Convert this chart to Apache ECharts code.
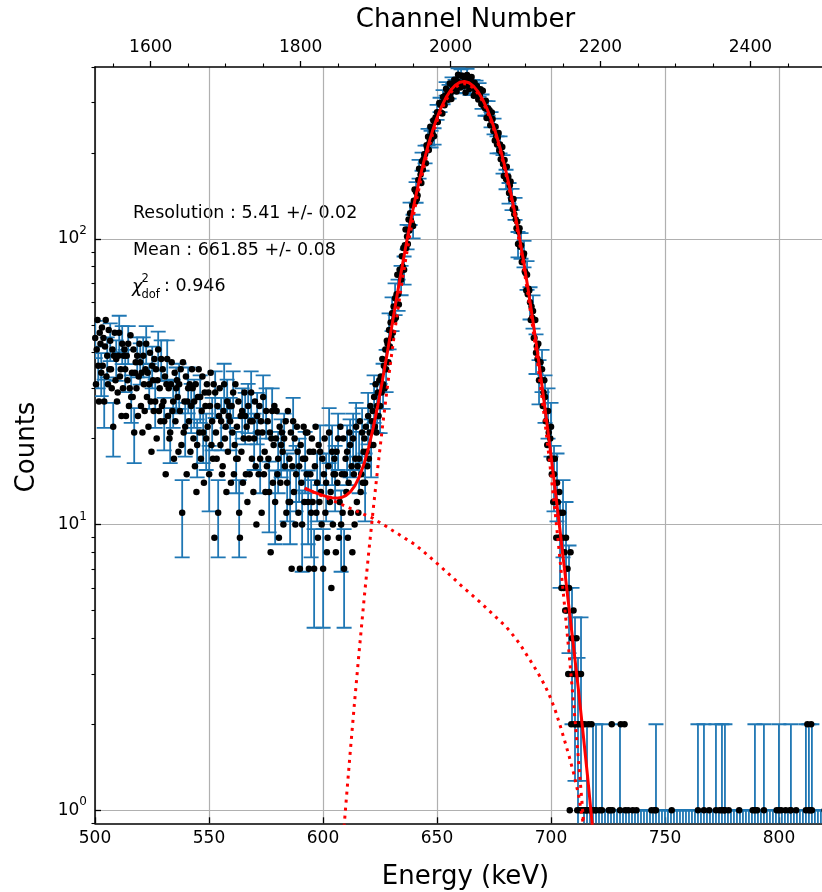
<!DOCTYPE html>
<html>
<head>
<meta charset="utf-8">
<script src="https://cdn.jsdelivr.net/npm/echarts@6/dist/echarts.min.js"></script>
<style>
  html, body { margin: 0; padding: 0; background: #ffffff; }
  #chart { width: 822px; height: 892px; }
</style>
</head>
<body>
<div id="chart"></div>
<script>
// Energy calibration: E [keV] = CAL_GAIN * channel + CAL_OFFSET
const CAL_GAIN = 0.3288;
const CAL_OFFSET = -1.65;
const FIRST_CHANNEL = 1526;
const ERROR_EVERY = 4;

const E_MIN = 500, E_MAX = 825;
const Y_MIN = 0.9, Y_MAX = 400;

// Counts per channel, starting at FIRST_CHANNEL
const countsContinuum = [
  45, 31, 41, 52, 36, 27, 47, 43, 34, 49,
  36, 45, 27, 42, 52, 33, 39, 31, 48, 35,
  44, 35, 30, 41, 22, 39, 47, 32, 38, 27,
  29, 39, 47, 33, 35, 24, 43, 30, 39, 41,
  35, 24, 39, 32, 43, 26, 30, 46, 28, 34,
  28, 41, 21, 34, 37, 30, 39, 24, 33, 43,
  37, 26, 34, 21, 39, 31, 25, 35, 43, 28,
  34, 22, 31, 40, 27, 18, 36, 32, 25, 38,
  27, 35, 20, 32, 41, 25, 30, 23, 38, 26,
  35, 27, 23, 33, 15, 31, 38, 24, 30, 20,
  21, 31, 37, 25, 27, 17, 34, 23, 30, 32,
  28, 18, 31, 25, 35, 19, 11, 37, 21, 27,
  22, 33, 15, 27, 30, 23, 31, 18, 26, 35,
  30, 20, 27, 16, 31, 13, 19, 28, 35, 21,
  28, 17, 25, 33, 21, 14, 29, 26, 20, 31,
  22, 29, 15, 26, 34, 19, 23, 17, 31, 9,
  29, 21, 17, 26, 11, 24, 30, 19, 23, 15,
  16, 25, 31, 20, 22, 13, 27, 18, 24, 26,
  23, 14, 26, 21, 29, 15, 19, 31, 17, 22,
  17, 27, 11, 9, 24, 18, 25, 14, 20, 29,
  24, 15, 22, 12, 26, 20, 15, 23, 29, 17,
  23, 13, 20, 27, 16, 10, 24, 21, 15, 26,
  17, 23, 11, 21, 28, 15, 18, 13, 25, 16,
  23, 17, 13, 21, 8, 20, 25, 14, 19, 26,
  12, 20, 25, 15, 17, 9, 22, 14, 19, 21,
  18, 10, 20, 16, 23, 11, 14, 25, 12, 17,
  12, 21, 7, 16, 23, 13, 20, 10, 15, 22,
  18, 11, 16, 7, 19, 14, 10, 17, 22, 12
];
const countsRise = [
  17, 21, 15, 21, 12, 7, 18, 15, 11, 20,
  12, 18, 7, 16, 22, 11, 14, 9, 19, 12,
  18, 13, 10, 17, 7, 15, 20, 11, 14, 8,
  9, 16, 21, 12, 13, 6, 18, 10, 15, 17,
  15, 8, 18, 14, 20, 9, 12, 22, 10, 15,
  11, 20, 7, 15, 17, 13, 18, 9, 14, 21,
  19, 11, 16, 8, 20, 15, 10, 17, 22, 12,
  16, 11, 17, 23, 13, 15, 21, 14, 18, 20,
  14, 22, 18, 16, 24, 17, 21, 26, 19, 23,
  25, 19, 28, 22, 31, 21, 26, 29, 24, 32,
  26, 33, 29, 38, 31, 36, 30, 41, 35, 44,
  43, 37, 48, 42, 51, 45, 55, 47, 58, 52
];
const countsPeak = [
  62, 53, 64, 75, 64, 59, 78, 76, 72, 87,
  80, 93, 78, 95, 108, 93, 102, 96, 117, 107,
  123, 116, 114, 131, 111, 136, 149, 135, 146, 138,
  142, 161, 176, 160, 168, 157, 187, 175, 190, 198,
  198, 184, 213, 207, 228, 205, 218, 247, 224, 238,
  233, 260, 229, 257, 266, 258, 278, 257, 277, 299,
  295, 277, 296, 275, 314, 302, 294, 318, 336, 311,
  329, 307, 328, 350, 324, 309, 349, 343, 330, 361,
  342, 360, 328, 355, 376, 341, 353, 339, 373, 349,
  373, 353, 343, 365, 326, 360, 375, 345, 356, 335,
  337, 356, 369, 339, 342, 317, 352, 326, 340, 343,
  333, 308, 333, 318, 334, 297, 303, 330, 292, 300,
  287, 305, 265, 285, 287, 270, 282, 250, 262, 277,
  263, 239, 248, 221, 247, 229, 214, 227, 235, 204,
  214, 190, 199, 210, 183, 166, 189, 178, 162, 179
];
const countsFall = [
  161, 165, 145, 154, 159, 138, 138, 127, 138, 122,
  128, 117, 109, 115, 96, 106, 109, 94, 95, 83,
  83, 87, 89, 77, 76, 66, 75, 64, 67, 66,
  60, 52, 58, 53, 56, 45, 45, 52, 40, 42,
  38, 43, 32, 37, 37, 32, 35, 26, 29, 32,
  28, 23, 25, 19, 25, 21, 17, 20, 22, 15,
  17, 12, 15, 17, 12, 9, 14, 12, 9, 13,
  9, 11, 6, 9, 11, 6, 8, 5, 9, 5,
  7, 3, 6, 1, 8, 2, 4, 3, 5, 2,
  3, 2, 4, 1, 2, 3, 1, 2, 3, 1,
  2, 1, 0, 2, 1, 1, 1, 0, 2, 1,
  0, 1, 2, 0, 1, 0, 0, 1, 1, 0,
  0, 0, 0, 1, 0, 0, 1, 0, 0, 0,
  0, 0, 0, 0, 0, 1, 0, 1, 0, 2,
  1, 0, 0, 0, 0, 0, 0, 0, 0, 0
];
const countsTail = [
  1, 2, 0, 0, 0, 0, 2, 1, 0, 0,
  0, 1, 0, 0, 0, 0, 0, 1, 0, 0,
  0, 0, 1, 0, 0, 0, 0, 0, 0, 0,
  0, 0, 0, 0, 0, 0, 0, 0, 0, 0,
  0, 0, 1, 0, 0, 0, 1, 0, 1, 0,
  0, 0, 0, 0, 0, 0, 0, 0, 0, 0,
  0, 0, 0, 0, 0, 0, 0, 0, 0, 1,
  0, 0, 0, 0, 0, 0, 0, 0, 0, 0,
  0, 0, 0, 0, 0, 0, 0, 0, 0, 0,
  0, 0, 0, 0, 0, 0, 0, 0, 0, 0,
  0, 0, 0, 0, 1, 0, 0, 0, 0, 0,
  0, 0, 1, 0, 0, 0, 0, 0, 0, 1,
  0, 0, 0, 0, 0, 0, 0, 0, 1, 0,
  0, 0, 0, 1, 0, 0, 1, 0, 0, 1,
  1, 0, 0, 0, 0, 1, 0, 0, 0, 0,
  0, 0, 0, 0, 0, 0, 0, 0, 0, 1,
  0, 0, 0, 0, 0, 0, 0, 0, 0, 0,
  0, 0, 0, 0, 0, 0, 0, 1, 0, 0,
  1, 0, 0, 1, 0, 0, 0, 0, 0, 0,
  0, 0, 1, 0, 0, 0, 0, 0, 0, 0,
  0, 0, 0, 0, 0, 0, 0, 0, 0, 1,
  0, 0, 1, 0, 0, 1, 0, 0, 0, 0,
  0, 1, 0, 0, 0, 0, 0, 1, 1, 0,
  0, 0, 0, 0, 0, 1, 0, 0, 0, 0,
  0, 0, 0, 0, 0, 0, 0, 0, 1, 0,
  2, 0, 1, 0, 1, 2, 1, 0, 0, 0,
  0, 0, 0, 0, 0, 0, 0, 0, 0, 0,
  0, 0, 0, 1, 0, 0, 0, 0, 0, 0,
  0, 0, 0, 0, 0, 0, 0, 0, 0
];

// Fit result sampled along energy (keV)
const fitEnergy = [
  592, 594, 596, 598, 600, 602, 604, 606, 608, 610,
  612, 614, 616, 618, 620, 622, 624, 626, 628, 630,
  632, 634, 636, 638, 640, 642, 644, 646, 648, 650,
  652, 654, 656, 658, 660, 662, 664, 666, 668, 670,
  672, 674, 676, 678, 680, 682, 684, 686, 688, 690,
  692, 694, 696, 698, 700, 702, 704, 706, 708, 710,
  712, 714, 716, 718, 720
];
const fitTotal = [
  13.41, 13.20, 13.00, 12.81, 12.65, 12.51, 12.41, 12.38, 12.44, 12.63,
  13.02, 13.69, 14.74, 16.32, 18.60, 21.78, 26.05, 31.75, 39.12, 48.49,
  60.28, 74.46, 91.35, 110.95, 133.15, 157.5, 183.65, 211.0, 238.65, 265.6,
  290.8, 313.15, 331.6, 345.3, 353.6, 356.0, 352.3, 342.8, 327.9, 308.35,
  285.1, 259.2, 231.6, 203.6, 176.0, 149.6, 125.0, 102.85, 83.34, 66.43,
  52.14, 40.45, 30.86, 23.36, 17.45, 12.92, 9.46, 6.90, 5.03, 3.66,
  2.66, 1.885, 1.323, 0.906, 0.612
];
const fitGauss = [
  0.0091, 0.0165, 0.0294, 0.0515, 0.0888, 0.150, 0.250, 0.410, 0.659, 1.04,
  1.62, 2.47, 3.70, 5.46, 7.91, 11.26, 15.77, 21.7, 29.3, 38.9,
  50.9, 65.3, 82.4, 102.2, 124.6, 149.2, 175.6, 203.2, 231.1, 258.3,
  283.7, 306.3, 325.0, 338.9, 347.4, 350.0, 346.5, 337.2, 322.5, 303.1,
  280.0, 254.3, 226.9, 199.0, 171.6, 145.4, 121.0, 99.0, 79.7, 63.0,
  48.9, 37.4, 28.0, 20.7, 15.0, 10.7, 7.48, 5.15, 3.49, 2.32,
  1.52, 0.973, 0.615, 0.381, 0.232
];
const fitBackground = [
  13.40, 13.18, 12.97, 12.76, 12.56, 12.36, 12.16, 11.97, 11.78, 11.59,
  11.40, 11.22, 11.04, 10.86, 10.69, 10.52, 10.28, 10.05, 9.82, 9.59,
  9.38, 9.16, 8.95, 8.75, 8.55, 8.30, 8.05, 7.80, 7.55, 7.31,
  7.08, 6.85, 6.62, 6.40, 6.18, 5.98, 5.79, 5.61, 5.43, 5.25,
  5.07, 4.90, 4.73, 4.57, 4.42, 4.23, 4.04, 3.85, 3.64, 3.43,
  3.24, 3.05, 2.86, 2.66, 2.45, 2.22, 1.98, 1.75, 1.54, 1.34,
  1.14, 0.912, 0.708, 0.525, 0.380
];

// Axis ticks
const channelMajorTicks = [1600, 1800, 2000, 2200, 2400];
const channelMinorTicks = [1550, 1650, 1700, 1750, 1850, 1900, 1950, 2050, 2100, 2150, 2250, 2300, 2350, 2450, 2500];
const countDecades = [1, 10, 100];
const countMinorTicks = [0.9, 2, 3, 4, 5, 6, 7, 8, 9, 20, 30, 40, 50, 60, 70, 80, 90, 200, 300, 400];

const FONT = 'DejaVu Sans';
const toEnergy = ch => CAL_GAIN * ch + CAL_OFFSET;
const toChannel = e => (e - CAL_OFFSET) / CAL_GAIN;

const counts = [].concat(countsContinuum, countsRise, countsPeak, countsFall, countsTail);
const points = [];
const bars = [];
counts.forEach((n, i) => {
  const e = toEnergy(FIRST_CHANNEL + i);
  if (n > 0) points.push([e, n]);
  if (i % ERROR_EVERY === 0) {
    const err = n > 0 ? Math.sqrt(n) : 1;
    bars.push([e, n - err, n + err]);
  }
});
const pair = (xs, ys) => xs.map((x, k) => [x, ys[k]]);

function renderErrorBar(params, api) {
  const cs = params.coordSys;
  const e = api.value(0), lo = api.value(1), hi = api.value(2);
  const p = api.coord([e, hi]);
  const x = p[0], yHi = p[1];
  const yLo = lo > 0 ? api.coord([e, lo])[1] : cs.y + cs.height + 10;
  const half = 7.5;
  const style = { stroke: '#1f77b4', lineWidth: 1.8, fill: null };
  const children = [
    { type: 'line', shape: { x1: x, y1: yLo, x2: x, y2: yHi }, style },
    { type: 'line', shape: { x1: x - half, y1: yHi, x2: x + half, y2: yHi }, style }
  ];
  if (lo > 0) {
    children.push({ type: 'line', shape: { x1: x - half, y1: yLo, x2: x + half, y2: yLo }, style });
  }
  return { type: 'group', children };
}

const axisLineStyle = { color: '#000000', width: 1.5 };
const gridLineStyle = { color: '#b0b0b0', width: 1.2 };

const chart = echarts.init(document.getElementById('chart'), null, { renderer: 'canvas' });
chart.setOption({
  animation: false,
  backgroundColor: '#ffffff',
  textStyle: { fontFamily: FONT, color: '#000000' },
  grid: { left: 95, top: 67, width: 741, height: 756.3, outerBoundsMode: 'none', containLabel: false },
  xAxis: [
    {
      type: 'value', position: 'bottom', min: E_MIN, max: E_MAX, interval: 50,
      axisLine: { show: true, onZero: false, lineStyle: axisLineStyle },
      axisTick: { show: true, inside: true, length: 6, lineStyle: { color: '#000', width: 1.3 } },
      axisLabel: { color: '#000', fontSize: 17, fontFamily: FONT, margin: 7, showMaxLabel: false },
      splitLine: { show: true, lineStyle: gridLineStyle }
    },
    {
      type: 'value', position: 'top', min: toChannel(E_MIN), max: toChannel(E_MAX),
      axisLine: { show: true, onZero: false, lineStyle: axisLineStyle },
      axisTick: { show: true, inside: false, length: 6, customValues: channelMajorTicks, lineStyle: { color: '#000', width: 1.3 } },
      axisLabel: {
        show: true, customValues: channelMajorTicks, color: '#000', fontSize: 17, fontFamily: FONT, margin: 11,
        formatter: v => String(Math.round(v))
      },
      splitLine: { show: false }
    },
    {
      type: 'value', position: 'top', min: toChannel(E_MIN), max: toChannel(E_MAX),
      axisLine: { show: false },
      axisTick: { show: true, inside: false, length: 3.5, customValues: channelMinorTicks, lineStyle: { color: '#000', width: 1.1 } },
      axisLabel: { show: false },
      splitLine: { show: false }
    }
  ],
  yAxis: [
    {
      type: 'log', logBase: 10, min: Y_MIN, max: Y_MAX, position: 'left',
      axisLine: { show: true, onZero: false, lineStyle: axisLineStyle },
      axisTick: { show: true, inside: true, length: 6, customValues: countDecades, lineStyle: { color: '#000', width: 1.3 } },
      axisLabel: {
        show: true, customValues: countDecades, margin: 8,
        formatter: v => '{b|10}{s|' + Math.round(Math.log10(v)) + '}',
        rich: {
          b: { fontSize: 17, fontFamily: FONT, color: '#000', lineHeight: 28, verticalAlign: 'middle' },
          s: { fontSize: 12, fontFamily: FONT, color: '#000', lineHeight: 14, verticalAlign: 'top' }
        }
      },
      splitLine: { show: true, lineStyle: gridLineStyle }
    },
    {
      type: 'log', logBase: 10, min: Y_MIN, max: Y_MAX, position: 'left',
      axisLine: { show: false },
      axisTick: { show: true, inside: false, length: 3.5, customValues: countMinorTicks, lineStyle: { color: '#000', width: 1.1 } },
      axisLabel: { show: false },
      splitLine: { show: false }
    }
  ],
  series: [
    {
      type: 'custom', name: 'errors', xAxisIndex: 0, yAxisIndex: 0,
      dimensions: ['energy', 'low', 'high'],
      encode: { x: 'energy', y: 'high' },
      data: bars, renderItem: renderErrorBar, clip: true, silent: true, z: 2
    },
    {
      type: 'scatter', name: 'data', xAxisIndex: 0, yAxisIndex: 0,
      data: points, symbol: 'circle', symbolSize: 6.5,
      itemStyle: { color: '#000000', opacity: 1 }, clip: true, silent: true, z: 3
    },
    {
      type: 'line', name: 'background', xAxisIndex: 0, yAxisIndex: 0,
      data: pair(fitEnergy, fitBackground), showSymbol: false, clip: true, silent: true, z: 4,
      lineStyle: { color: '#ff0000', width: 3, type: [3, 5], cap: 'butt' }
    },
    {
      type: 'line', name: 'gauss', xAxisIndex: 0, yAxisIndex: 0,
      data: pair(fitEnergy, fitGauss), showSymbol: false, clip: true, silent: true, z: 4,
      lineStyle: { color: '#ff0000', width: 3, type: [3, 5], cap: 'butt' }
    },
    {
      type: 'line', name: 'fit', xAxisIndex: 0, yAxisIndex: 0,
      data: pair(fitEnergy, fitTotal), showSymbol: false, clip: true, silent: true, z: 5,
      lineStyle: { color: '#ff0000', width: 3 }
    }
  ],
  graphic: [
    { type: 'text', x: 465.5, y: 20, style: { text: 'Channel Number', fontSize: 26, fontFamily: FONT, fill: '#000', align: 'center', verticalAlign: 'middle' } },
    { type: 'text', x: 465.5, y: 877, style: { text: 'Energy (keV)', fontSize: 26, fontFamily: FONT, fill: '#000', align: 'center', verticalAlign: 'middle' } },
    { type: 'text', x: 27, y: 447, rotation: Math.PI / 2, style: { text: 'Counts', fontSize: 26, fontFamily: FONT, fill: '#000', align: 'center', verticalAlign: 'middle' } },
    { type: 'text', x: 133, y: 213, style: { text: 'Resolution : 5.41 +/- 0.02', fontSize: 17.5, fontFamily: FONT, fill: '#000', align: 'left', verticalAlign: 'middle' } },
    { type: 'text', x: 133, y: 250, style: { text: 'Mean : 661.85 +/- 0.08', fontSize: 17.5, fontFamily: FONT, fill: '#000', align: 'left', verticalAlign: 'middle' } },
    { type: 'text', x: 132, y: 287, style: { text: 'χ', fontSize: 17.5, fontStyle: 'italic', fontFamily: FONT, fill: '#000', align: 'left', verticalAlign: 'middle' } },
    { type: 'text', x: 141.5, y: 279, style: { text: '2', fontSize: 11.5, fontFamily: FONT, fill: '#000', align: 'left', verticalAlign: 'middle' } },
    { type: 'text', x: 141.5, y: 295, style: { text: 'dof', fontSize: 11.5, fontFamily: FONT, fill: '#000', align: 'left', verticalAlign: 'middle' } },
    { type: 'text', x: 164, y: 286, style: { text: ': 0.946', fontSize: 17.5, fontFamily: FONT, fill: '#000', align: 'left', verticalAlign: 'middle' } }
  ]
});
</script>
</body>
</html>
